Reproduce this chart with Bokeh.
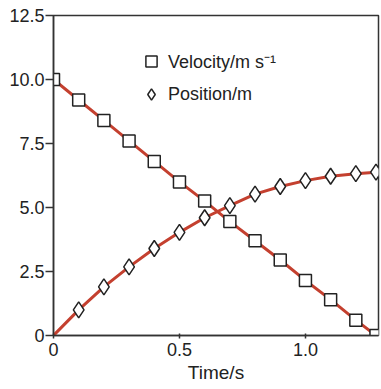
from bokeh.plotting import figure
from bokeh.models import Range1d, FixedTicker, NumeralTickFormatter, Legend, LegendItem, ColumnDataSource
from bokeh.embed import file_html
from bokeh.resources import INLINE

# Data
time_s = [0.0, 0.1, 0.2, 0.3, 0.4, 0.5, 0.6, 0.7, 0.8, 0.9, 1.0, 1.1, 1.2, 1.28]
velocity = [10.0, 9.2, 8.4, 7.6, 6.8, 6.0, 5.25, 4.45, 3.7, 2.95, 2.15, 1.4, 0.6, 0.0]
position = [0.0, 1.0, 1.9, 2.68, 3.4, 4.03, 4.6, 5.07, 5.52, 5.82, 6.05, 6.22, 6.32, 6.38]
x_ticks = [0, 0.5, 1.0]
y_ticks = [0, 2.5, 5.0, 7.5, 10.0, 12.5]
legend_labels = ["Velocity/m s\u207b\u00b9", "Position/m"]

FONT = "Liberation Sans"
TXT = "#222222"
RED = "#c4402f"

p = figure(width=381, height=389, output_backend="svg", toolbar_location=None,
           x_range=Range1d(0, 1.29), y_range=Range1d(0, 12.5),
           min_border_left=53, min_border_right=3, min_border_top=15, min_border_bottom=54)
p.grid.visible = False
p.outline_line_color = "#333333"
p.outline_line_width = 1.5
p.background_fill_color = "white"
p.border_fill_color = "white"

src_v = ColumnDataSource(dict(t=time_s, v=velocity))
src_p = ColumnDataSource(dict(t=time_s, x=position))
src_pm = ColumnDataSource(dict(t=time_s[1:], x=position[1:]))

p.line("t", "v", source=src_v, line_color=RED, line_width=3)
p.line("t", "x", source=src_p, line_color=RED, line_width=3)
r_sq = p.scatter("t", "v", source=src_v, marker="square", size=12,
                 fill_color="white", line_color="#222222", line_width=1.5)
r_di = p.scatter("t", "x", source=src_pm, marker="diamond", size=16,
                 fill_color="white", line_color="#222222", line_width=1.5)

for ax in (p.xaxis[0], p.yaxis[0]):
    ax.axis_line_color = "#333333"
    ax.axis_line_width = 1.5
    ax.major_tick_line_color = "#333333"
    ax.major_tick_line_width = 1.5
    ax.minor_tick_line_color = None
    ax.major_label_text_font = FONT
    ax.major_label_text_font_size = "18px"
    ax.major_label_text_color = TXT
    ax.formatter = NumeralTickFormatter(format="0.0")
    ax.major_label_overrides = {0: "0"}

p.xaxis.ticker = FixedTicker(ticks=x_ticks)
p.yaxis.ticker = FixedTicker(ticks=y_ticks)
p.yaxis.major_tick_in = 0
p.yaxis.major_tick_out = 8
p.yaxis.major_label_standoff = 1
p.xaxis.major_tick_in = 2
p.xaxis.major_tick_out = 3
p.xaxis.major_label_standoff = 4
p.xaxis.axis_label = "Time/s"
p.xaxis.axis_label_text_font = FONT
p.xaxis.axis_label_text_font_size = "19px"
p.xaxis.axis_label_text_font_style = "normal"
p.xaxis.axis_label_text_color = TXT
p.xaxis.axis_label_standoff = 3

legend = Legend(items=[LegendItem(label=legend_labels[0], renderers=[r_sq]),
                       LegendItem(label=legend_labels[1], renderers=[r_di])],
                location=(84, 227), padding=0, margin=0, spacing=5,
                glyph_width=28, glyph_height=28, label_height=28, label_standoff=3,
                border_line_color=None, background_fill_alpha=0,
                label_text_font=FONT, label_text_font_size="18px", label_text_color=TXT)
p.add_layout(legend)

open("out.html", "w").write(file_html(p, INLINE))
